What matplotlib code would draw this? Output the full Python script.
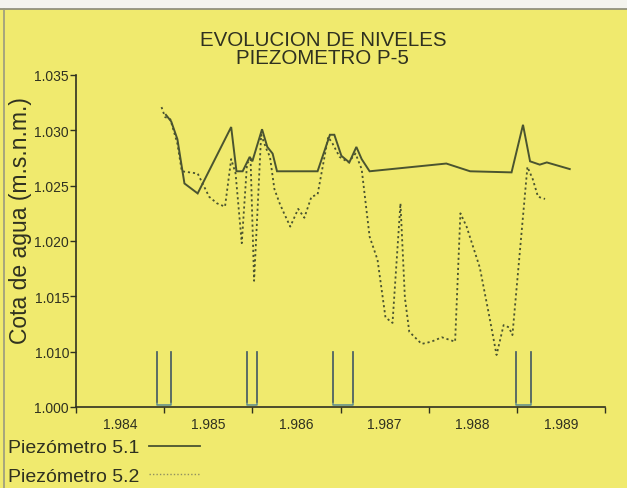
import numpy as np
import matplotlib
matplotlib.use("Agg")
import matplotlib.pyplot as plt
from matplotlib.ticker import FixedLocator, FuncFormatter, NullFormatter
from matplotlib.patches import Rectangle
from matplotlib.lines import Line2D

# Piezómetro 5.1 (year, water level m.s.n.m.)
p51_year = [1985.02, 1985.08, 1985.15, 1985.23, 1985.38, 1985.76, 1985.82, 1985.89,
            1985.97, 1986.00, 1986.11, 1986.17, 1986.23, 1986.28, 1986.74, 1986.88,
            1986.93, 1987.01, 1987.10, 1987.18, 1987.24, 1987.33, 1988.20, 1988.47,
            1988.94, 1989.07, 1989.15, 1989.26, 1989.34, 1989.60]
p51_level = [1031.4, 1030.8, 1029.2, 1025.2, 1024.3, 1030.3, 1026.3, 1026.3,
             1027.6, 1027.2, 1030.1, 1028.5, 1027.9, 1026.3, 1026.3, 1029.6,
             1029.6, 1027.7, 1027.1, 1028.5, 1027.4, 1026.3, 1027.0, 1026.3,
             1026.2, 1030.5, 1027.2, 1026.9, 1027.1, 1026.5]

# Piezómetro 5.2
p52_year = [1984.97, 1985.01, 1985.07, 1985.15, 1985.20, 1985.38, 1985.51, 1985.60,
            1985.69, 1985.76, 1985.81, 1985.88, 1985.94, 1985.98, 1986.02, 1986.10,
            1986.16, 1986.20, 1986.25, 1986.31, 1986.36, 1986.43, 1986.52, 1986.59,
            1986.67, 1986.74, 1986.86, 1986.91, 1986.99, 1987.09, 1987.17, 1987.24,
            1987.33, 1987.42, 1987.51, 1987.59, 1987.68, 1987.73, 1987.78, 1987.92,
            1988.03, 1988.15, 1988.30, 1988.36, 1988.43, 1988.58, 1988.69, 1988.77,
            1988.85, 1988.91, 1988.95, 1989.12, 1989.18, 1989.24, 1989.32]
p52_level = [1032.1, 1031.2, 1031.0, 1028.8, 1026.3, 1026.1, 1024.0, 1023.4,
             1023.1, 1027.4, 1026.1, 1019.8, 1027.0, 1027.4, 1016.4, 1029.6,
             1028.3, 1027.6, 1024.7, 1023.4, 1022.5, 1021.3, 1022.9, 1022.1,
             1024.0, 1024.2, 1029.4, 1028.8, 1027.6, 1027.1, 1027.9, 1026.5,
             1020.4, 1018.3, 1013.1, 1012.6, 1023.4, 1014.9, 1011.8, 1010.7,
             1010.9, 1011.3, 1010.9, 1022.5, 1021.3, 1017.6, 1013.1, 1009.4,
             1012.4, 1012.2, 1011.5, 1026.7, 1025.6, 1024.0, 1023.8]

# Periods without readings (start, end)
gap_start = [1984.92, 1985.94, 1986.91, 1988.99]
gap_end = [1985.08, 1986.05, 1987.14, 1989.16]
gap_top = 1010.0
gap_base = 1000.3

y_ticks = [1000, 1010, 1015, 1020, 1025, 1030, 1035]
year_ticks = [1984, 1985, 1986, 1987, 1988, 1989, 1990]
year_labels = [1984.5, 1985.5, 1986.5, 1987.5, 1988.5, 1989.5]

BG = "#f0ea6e"
INK = "#2f3120"
LINE = "#4a5430"
GAP = "#5b8c8e"


def fwd(y):
    y = np.asarray(y, dtype=float)
    return np.where(y >= 1010, y, 1010 - (1010 - y) * 0.5)


def inv(v):
    v = np.asarray(v, dtype=float)
    return np.where(v >= 1010, v, 1010 - (1010 - v) * 2.0)


def thousands(v, pos=None):
    return f"{v:,.0f}".replace(",", ".")


plt.rcParams["font.family"] = ["Liberation Sans", "DejaVu Sans"]

fig = plt.figure(figsize=(6.27, 4.89), dpi=100, facecolor=BG)
# paper edge around the panel
fig.patches.append(Rectangle((0, 1 - 10 / 489), 1, 10 / 489, transform=fig.transFigure,
                             facecolor="#f4f4ee", edgecolor="none", zorder=0))
fig.add_artist(Line2D([0, 1], [1 - 10 / 489] * 2, transform=fig.transFigure,
                      color="#8a8a78", lw=1.2))
fig.add_artist(Line2D([4 / 627] * 2, [0, 1 - 10 / 489], transform=fig.transFigure,
                      color="#9a9a80", lw=1.2))

ax = fig.add_axes([76 / 627, 81 / 489, (605 - 76) / 627, (408 - 76) / 489])
ax.set_facecolor("none")
ax.set_yscale("function", functions=(fwd, inv))

ax.plot(p51_year, p51_level, color=LINE, lw=1.4, solid_joinstyle="miter")
ax.plot(p52_year, p52_level, color=LINE, lw=1.3, linestyle=(0, (1.2, 1.6)))

for x0, x1 in zip(gap_start, gap_end):
    ax.plot([x0, x0, x1, x1], [gap_top, gap_base, gap_base, gap_top],
            color=GAP, lw=1.1)
    ax.plot([x0, x0], [gap_top, gap_base + 0.6], color="#55605a", lw=1.1)
    ax.plot([x1, x1], [gap_top, gap_base + 0.6], color="#55605a", lw=1.1)

ax.set_xlim(1984, 1990)
ax.set_ylim(1000, 1035)

for s in ("top", "right"):
    ax.spines[s].set_visible(False)
for s in ("left", "bottom"):
    ax.spines[s].set_color(INK)
    ax.spines[s].set_linewidth(1.2)

ax.yaxis.set_major_locator(FixedLocator(y_ticks))
ax.yaxis.set_major_formatter(FuncFormatter(lambda v, p: thousands(v)))
ax.yaxis.set_minor_locator(FixedLocator([]))
ax.tick_params(axis="y", direction="out", length=4, width=1, color=INK,
               labelcolor=INK, labelsize=10, pad=1)

ax.xaxis.set_major_locator(FixedLocator(year_ticks))
ax.xaxis.set_major_formatter(NullFormatter())
ax.xaxis.set_minor_locator(FixedLocator(year_labels))
ax.xaxis.set_minor_formatter(FuncFormatter(lambda v, p: thousands(v - 0.5)))
ax.tick_params(axis="x", which="major", direction="out", length=4, width=1, color=INK)
ax.tick_params(axis="x", which="minor", length=0, labelcolor=INK, labelsize=10, pad=7)

ax.set_ylabel("Cota de agua (m.s.n.m.)", fontsize=16.5, color=INK)
ax.yaxis.set_label_coords(-0.084, 0.565)

fig.text(0.515, 1 - 40 / 489, "EVOLUCION DE NIVELES", ha="center", va="center",
         fontsize=14.8, color=INK)
fig.text(0.515, 1 - 58 / 489, "PIEZOMETRO P-5", ha="center", va="center",
         fontsize=14.8, color=INK)

h1 = Line2D([], [], color=LINE, lw=1.3)
h2 = Line2D([], [], color="#8f8f60", lw=1.0, linestyle=(0, (1, 1.5)))
fig.legend([h1, h2], ["Piezómetro 5.1", "Piezómetro 5.2"], loc="upper left",
           bbox_to_anchor=(4 / 627, 1 - 436 / 489), frameon=False, markerfirst=False,
           fontsize=14, labelcolor=INK, handlelength=2.6, handletextpad=0.5,
           labelspacing=0.55, borderaxespad=0, borderpad=0.2)

fig.savefig("out.png", dpi=100, facecolor=BG)
